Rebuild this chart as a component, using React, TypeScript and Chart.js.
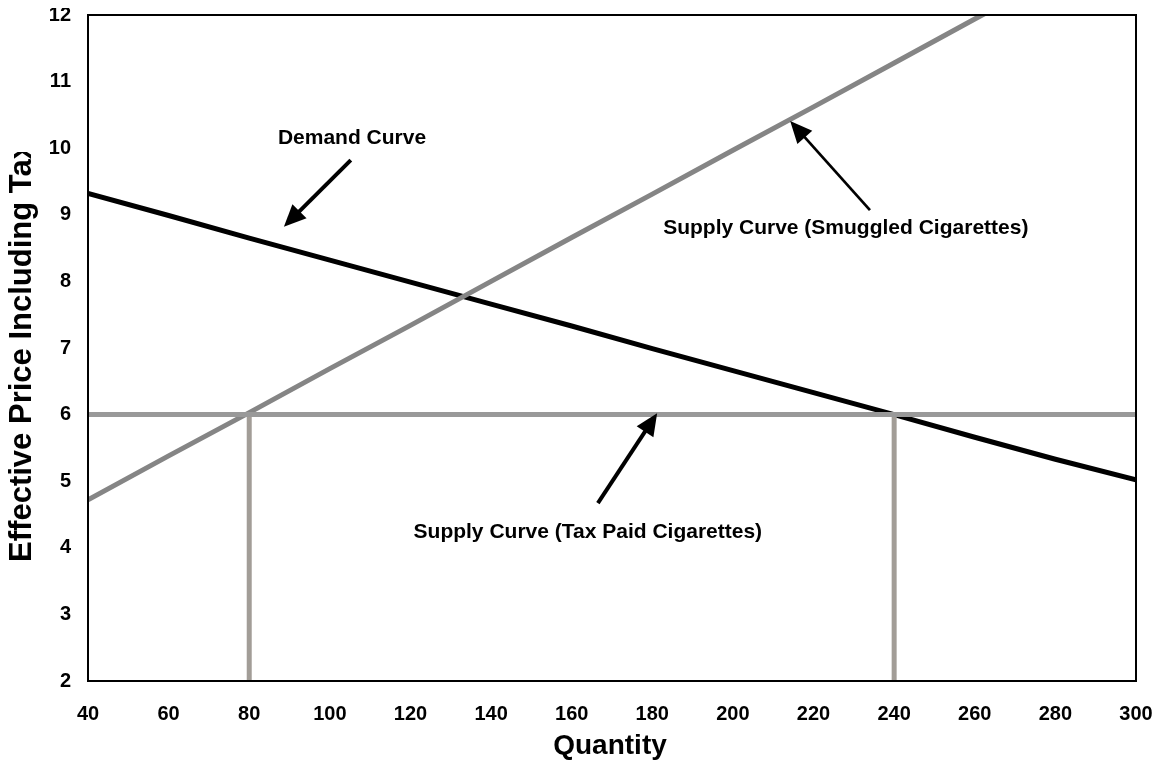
import React, { useEffect, useRef } from "react";
import { Chart, registerables } from "chart.js";

Chart.register(...registerables);

// ---- Data ----
const demandQty = [40, 60, 80, 100, 120, 140, 160, 180, 200, 220, 240, 260, 280, 300];
const demandPrice = [9.32, 8.99, 8.65, 8.32, 7.99, 7.66, 7.33, 6.99, 6.66, 6.33, 6.0, 5.66, 5.33, 5.02];

const smuggledQty = [40, 60, 80, 100, 120, 140, 160, 180, 200, 220, 240, 260, 280];
const smuggledPrice = [4.72, 5.38, 6.03, 6.69, 7.34, 8.0, 8.66, 9.31, 9.97, 10.62, 11.28, 11.94, 12.59];

const taxPaidQty = [40, 300];
const taxPaidPrice = [6, 6];

const marketQty = [80, 240]; // quantities where supply curves meet
const marketPrice = 6;
const priceAxisMin = 2;
const priceAxisMax = 12;
const qtyAxisMin = 40;
const qtyAxisMax = 300;

const labelTexts = [
  "Demand Curve",
  "Supply Curve (Smuggled Cigarettes)",
  "Supply Curve (Tax Paid Cigarettes)",
];
// label anchor (data coords) and arrow tail / tip (data coords)
const labelAt = [
  [105.5, 10.15],
  [228.0, 8.8],
  [164.0, 4.24],
];
const arrowFrom = [
  [105.2, 9.82],
  [234.0, 9.07],
  [166.5, 4.67],
];
const arrowTo = [
  [88.6, 8.82],
  [214.2, 10.41],
  [181.2, 6.02],
];

const FONT = '"Liberation Sans", Arial, Helvetica, sans-serif';

const pts = (xs: number[], ys: number[]) => xs.map((x, i) => ({ x, y: ys[i] }));

const overlayPlugin = {
  id: "overlay",
  afterDatasetsDraw(chart: any) {
    const { ctx, chartArea: a, scales } = chart;
    const xs = scales.x;
    const ys = scales.y;
    ctx.save();
    // plot border
    ctx.strokeStyle = "#000";
    ctx.lineWidth = 2;
    ctx.strokeRect(a.left, a.top, a.right - a.left, a.bottom - a.top);

    // arrows
    const widths = [4, 2.7, 4];
    for (let i = 0; i < arrowFrom.length; i++) {
      const sx = xs.getPixelForValue(arrowFrom[i][0]);
      const sy = ys.getPixelForValue(arrowFrom[i][1]);
      const tx = xs.getPixelForValue(arrowTo[i][0]);
      const ty = ys.getPixelForValue(arrowTo[i][1]);
      const dx = tx - sx;
      const dy = ty - sy;
      const len = Math.hypot(dx, dy);
      const ux = dx / len;
      const uy = dy / len;
      const headLen = 22;
      const hw = 10;
      const bx = tx - ux * headLen;
      const by = ty - uy * headLen;
      ctx.strokeStyle = "#000";
      ctx.lineWidth = widths[i];
      ctx.lineCap = "butt";
      ctx.beginPath();
      ctx.moveTo(sx, sy);
      ctx.lineTo(bx + ux * 2, by + uy * 2);
      ctx.stroke();
      ctx.fillStyle = "#000";
      ctx.beginPath();
      ctx.moveTo(tx, ty);
      ctx.lineTo(bx - uy * hw, by + ux * hw);
      ctx.lineTo(bx + uy * hw, by - ux * hw);
      ctx.closePath();
      ctx.fill();
    }

    // labels
    ctx.fillStyle = "#000";
    ctx.font = `bold 21px ${FONT}`;
    ctx.textAlign = "center";
    ctx.textBaseline = "middle";
    for (let i = 0; i < labelTexts.length; i++) {
      ctx.fillText(
        labelTexts[i],
        xs.getPixelForValue(labelAt[i][0]),
        ys.getPixelForValue(labelAt[i][1])
      );
    }
    ctx.restore();
  },
  afterDraw(chart: any) {
    const { ctx, chartArea: a } = chart;
    ctx.save();
    ctx.fillStyle = "#000";
    // y title (clipped at the top like the reference)
    ctx.save();
    ctx.beginPath();
    ctx.rect(0, 144, 60, chart.height - 144);
    ctx.clip();
    ctx.translate(14, 344);
    ctx.rotate(-Math.PI / 2);
    ctx.font = `bold 31px ${FONT}`;
    ctx.textAlign = "center";
    ctx.textBaseline = "middle";
    ctx.fillText("Effective Price Including Tax", 0, 0);
    ctx.restore();
    // x title
    ctx.font = `bold 28px ${FONT}`;
    ctx.textAlign = "center";
    ctx.textBaseline = "alphabetic";
    ctx.fillText("Quantity", (a.left + a.right) / 2 - 2, 746);
    ctx.restore();
  },
};

export default function App() {
  const canvasRef = useRef<HTMLCanvasElement | null>(null);

  useEffect(() => {
    if (!canvasRef.current) return;
    const lineBase = {
      showLine: true,
      pointRadius: 0,
      pointHoverRadius: 0,
      fill: false,
      tension: 0,
      clip: 0,
    };
    const chart = new Chart(canvasRef.current, {
      type: "scatter",
      data: {
        datasets: [
          {
            ...lineBase,
            label: "Tax paid supply",
            data: pts(taxPaidQty, taxPaidPrice),
            borderColor: "#999999",
            borderWidth: 5,
          },
          ...marketQty.map((q) => ({
            ...lineBase,
            label: "Quantity " + q,
            data: [
              { x: q, y: priceAxisMin },
              { x: q, y: marketPrice },
            ],
            borderColor: "#A29D97",
            borderWidth: 5,
          })),
          {
            ...lineBase,
            label: "Smuggled supply",
            data: pts(smuggledQty, smuggledPrice),
            borderColor: "#858585",
            borderWidth: 5,
          },
          {
            ...lineBase,
            label: "Demand",
            data: pts(demandQty, demandPrice),
            borderColor: "#000000",
            borderWidth: 5,
          },
        ],
      },
      options: {
        responsive: false,
        maintainAspectRatio: false,
        animation: false,
        events: [],
        layout: { padding: { top: 7, right: 18, left: 0, bottom: 0 } },
        plugins: {
          legend: { display: false },
          tooltip: { enabled: false },
          title: { display: false },
        },
        scales: {
          x: {
            type: "linear",
            min: qtyAxisMin,
            max: qtyAxisMax,
            grid: { display: false, drawTicks: false },
            border: { display: false },
            ticks: {
              stepSize: 20,
              padding: 21,
              color: "#000",
              maxRotation: 0,
              font: { family: FONT, size: 20, weight: "bold" },
            },
            afterFit(scale: any) {
              scale.height = 84;
              scale.paddingLeft = 0;
              scale.paddingRight = 0;
            },
          },
          y: {
            type: "linear",
            min: priceAxisMin,
            max: priceAxisMax,
            grid: { display: false, drawTicks: false },
            border: { display: false },
            ticks: {
              stepSize: 1,
              padding: 17,
              color: "#000",
              font: { family: FONT, size: 20, weight: "bold" },
            },
            afterFit(scale: any) {
              scale.width = 80;
              scale.paddingTop = 0;
              scale.paddingBottom = 0;
            },
          },
        },
      } as any,
      plugins: [overlayPlugin],
    });
    return () => chart.destroy();
  }, []);

  return (
    <div style={{ width: 1146, height: 757 }}>
      <canvas ref={canvasRef} width={1146} height={757} style={{ display: "block" }} />
    </div>
  );
}
